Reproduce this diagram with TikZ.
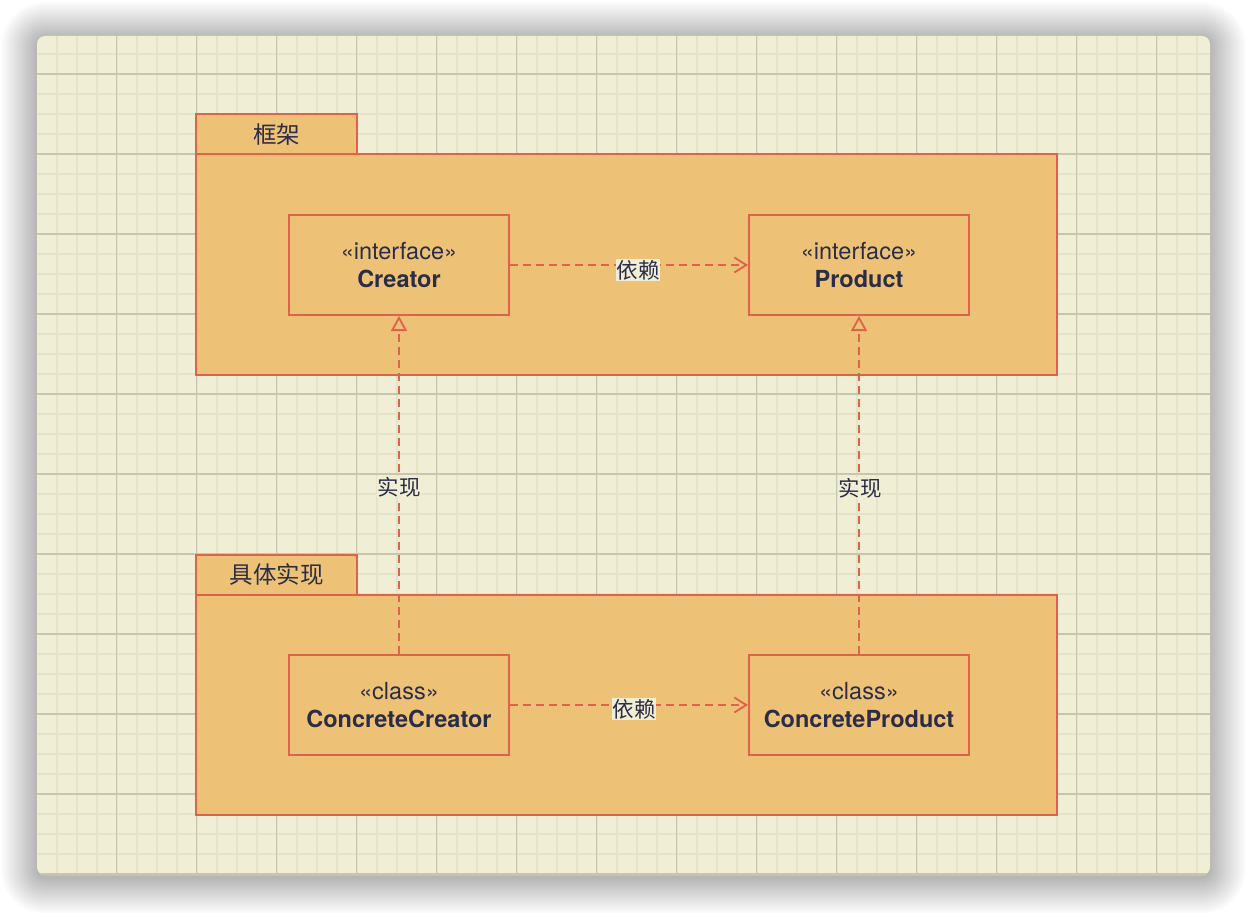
\documentclass[tikz,border=0pt]{standalone}
\usepackage{fontspec}
\setmainfont{TeX Gyre Heros}
\newfontfamily\cjk{Noto Sans CJK SC}
\usetikzlibrary{arrows.meta}
\definecolor{canvasbg}{HTML}{F1EED6}
\definecolor{gridminor}{HTML}{E7E3C9}
\definecolor{gridmajor}{HTML}{C9C5AF}
\definecolor{pkgfill}{HTML}{EEC276}
\definecolor{linecol}{HTML}{E0624B}
\definecolor{textcol}{HTML}{2B2D47}
\tikzset{
  pkgbox/.style={draw=linecol, fill=pkgfill, line width=2pt},
  tabtext/.style={text=textcol, font=\cjk\fontsize{23.5}{28}\selectfont, inner sep=0pt},
  clsbox/.style={draw=linecol, fill=pkgfill, line width=2pt, text=textcol,
    minimum width=220pt, minimum height=100pt, align=center, inner sep=0pt,
    font=\fontsize{23.5}{28}\selectfont},
  deparrow/.style={draw=linecol, line width=1.8pt, dash pattern=on 8pt off 5pt,
    -{Straight Barb[length=12pt,width=15pt,line width=1.8pt]}},
  realarrow/.style={draw=linecol, line width=1.8pt, dash pattern=on 8pt off 5pt,
    -{Triangle[open,fill=pkgfill,length=15pt,width=16pt,line width=1.8pt]}},
  lbl/.style={fill=canvasbg, text=textcol, inner sep=0.8pt,
    font=\cjk\fontsize{21.5}{26}\selectfont}
}
\begin{document}
\begin{tikzpicture}[x=1pt,y=-1pt]
\useasboundingbox (0,0) rectangle (1246,912);
\fill[white] (0,0) rectangle (1246,912);
% shadow
\foreach \i in {1,...,36}{
  \pgfmathsetmacro\rr{8+\i}
  \fill[black, opacity=0.0065, rounded corners=\rr pt] (37-\i,38-\i) rectangle (1210+\i,878+\i);
}
% canvas
\fill[canvasbg, rounded corners=8pt] (37,36) rectangle (1210,875);
\begin{scope}
  \clip[rounded corners=8pt] (37,36) rectangle (1210,875);
  \foreach \x in {56.7,76.7,...,1210}{\draw[gridminor, line width=1.6pt] (\x,36) -- (\x,875);}
  \foreach \y in {54,74,...,875}{\draw[gridminor, line width=1.6pt] (37,\y) -- (1210,\y);}
  \foreach \x in {116.7,196.7,...,1210}{\draw[gridmajor, line width=1.1pt] (\x,36) -- (\x,875);}
  \foreach \y in {74,154,...,875}{\draw[gridmajor, line width=1.1pt] (37,\y) -- (1210,\y);}
\end{scope}
% package: framework
\draw[pkgbox] (196,114) rectangle (357,154);
\draw[pkgbox] (196,154) rectangle (1057,375);
\node[tabtext] (fwtab) at (276.5,135) {框架};
% package: concrete
\draw[pkgbox] (196,555) rectangle (357,595);
\draw[pkgbox] (196,595) rectangle (1057,815);
\node[tabtext] (cctab) at (276.5,575) {具体实现};
% classes
\node[clsbox] (creator) at (399,265) {«interface»\\\textbf{Creator}};
\node[clsbox] (product) at (859,265) {«interface»\\\textbf{Product}};
\node[clsbox] (ccreator) at (399,705) {«class»\\\textbf{ConcreteCreator}};
\node[clsbox] (cproduct) at (859,705) {«class»\\\textbf{ConcreteProduct}};
% dependencies
\draw[deparrow] (creator.east) -- (product.west);
\node[lbl] (dep1) at (638,270) {依赖};
\draw[deparrow] (ccreator.east) -- (cproduct.west);
\node[lbl] (dep2) at (634,709) {依赖};
% realizations
\draw[realarrow] (ccreator.north) -- (creator.south);
\node[lbl] (real1) at (399,487) {实现};
\draw[realarrow] (cproduct.north) -- (product.south);
\node[lbl] (real2) at (860,488) {实现};
\end{tikzpicture}
\end{document}
